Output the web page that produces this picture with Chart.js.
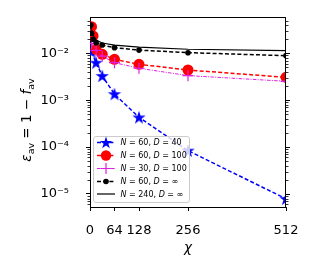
<!DOCTYPE html>
<html><head><meta charset="utf-8">
<script src="https://cdn.jsdelivr.net/npm/chart.js@4/dist/chart.umd.min.js"></script>
<style>html,body{margin:0;padding:0;background:#fff;overflow:hidden}</style>
</head><body>
<canvas id="c" width="314" height="275" style="width:314px;height:275px;display:block"></canvas>
<script>
// ---- data ----
const chiBlue = [4, 16, 32, 64, 128, 256, 512];
const epsBlue = [0.0108, 0.0063, 0.00328, 0.00135, 0.00043, 0.000084, 0.0000079];
const chiRed = [4, 8, 16, 32, 64, 128, 256, 512];
const epsRed = [0.0369, 0.0234, 0.0122, 0.0095, 0.00745, 0.00582, 0.0044, 0.00307];
const chiMag = [4, 16, 32, 64, 128, 256, 512];
const epsMag = [0.0163, 0.0115, 0.0087, 0.0063, 0.0048, 0.00334, 0.00253];
const chiBlk = [2, 4, 8, 16, 32, 64, 128, 256, 512];
const epsBlk = [0.040, 0.0267, 0.0199, 0.0168, 0.0150, 0.0132, 0.0117, 0.0103, 0.0089];
const chiSol = [2, 4, 8, 16, 32, 64, 128, 256, 512];
const epsSol = [0.045, 0.032, 0.0245, 0.0192, 0.0166, 0.0150, 0.0135, 0.0122, 0.0114];
const xTickValues = [0, 64, 128, 256, 512];
const yTickValues = [1e-5, 1e-4, 1e-3, 1e-2];
const yTickLabels = ['10\u207B\u2075', '10\u207B\u2074', '10\u207B\u00B3', '10\u207B\u00B2'];
const legendN = ['60', '60', '30', '60', '240'];
const legendD = ['40', '100', '100', '\u221E', '\u221E'];

const pts = (xs, ys) => xs.map((x, i) => ({x: x, y: ys[i]}));

function starPath(ctx, cx, cy, R) {
  const r = R * 0.382;
  ctx.beginPath();
  for (let i = 0; i < 10; i++) {
    const a = -Math.PI / 2 + i * Math.PI / 5;
    const rr = (i % 2) ? r : R;
    ctx.lineTo(cx + rr * Math.cos(a), cy + rr * Math.sin(a));
  }
  ctx.closePath();
}
const starImg = document.createElement('canvas');
starImg.width = 16; starImg.height = 16;
(function(){ const g = starImg.getContext('2d'); starPath(g, 8, 8.5, 7); g.fillStyle = '#0000ff'; g.fill(); })();

const FONT = "'DejaVu Sans', sans-serif";

const decor = {
  id: 'decor',
  afterDraw(chart) {
    const ctx = chart.ctx, a = chart.chartArea, ys = chart.scales.y;
    ctx.save();
    ctx.strokeStyle = '#000'; ctx.lineWidth = 1;
    // frame top and right
    ctx.beginPath();
    ctx.moveTo(a.left, a.top + 0.5); ctx.lineTo(a.right, a.top + 0.5);
    ctx.moveTo(a.right - 0.5, a.top); ctx.lineTo(a.right - 0.5, a.bottom);
    ctx.stroke();
    // minor ticks left/right, major ticks right
    ctx.lineWidth = 0.8;
    ctx.beginPath();
    for (let d = -6; d <= -1; d++) {
      for (let k = 2; k <= 9; k++) {
        const v = k * Math.pow(10, d);
        if (v < ys.min || v > ys.max) continue;
        const py = Math.round(ys.getPixelForValue(v)) + 0.5;
        ctx.moveTo(a.left, py); ctx.lineTo(a.left - 2.5, py);
        ctx.moveTo(a.right, py); ctx.lineTo(a.right + 2.5, py);
      }
    }
    ctx.stroke();
    ctx.lineWidth = 1;
    ctx.beginPath();
    yTickValues.forEach(v => {
      const py = Math.round(ys.getPixelForValue(v)) + 0.5;
      ctx.moveTo(a.right, py); ctx.lineTo(a.right + 4, py);
    });
    ctx.stroke();

    // y title
    ctx.fillStyle = '#000';
    ctx.textBaseline = 'alphabetic';
    const parts = [
      {t: '\u03B5', f: 'italic 13.5px ' + FONT, dy: 0},
      {t: 'av', f: '9.5px ' + FONT, dy: 2.5},
      {t: ' = 1 \u2212 ', f: '13.5px ' + FONT, dy: 0},
      {t: 'f', f: 'italic 13.5px ' + FONT, dy: 0},
      {t: 'av', f: '9.5px ' + FONT, dy: 2.5}
    ];
    let w = 0;
    parts.forEach(p => { ctx.font = p.f; p.w = ctx.measureText(p.t).width; w += p.w; });
    ctx.save();
    ctx.translate(31, 120);
    ctx.rotate(-Math.PI / 2);
    let x = -w / 2;
    parts.forEach(p => { ctx.font = p.f; ctx.fillText(p.t, x, p.dy); x += p.w; });
    ctx.restore();

    // x title
    ctx.font = 'italic 13.5px ' + FONT;
    ctx.textAlign = 'center'; ctx.textBaseline = 'middle';
    ctx.fillText('\u03C7', (a.left + a.right) / 2, 248);

    // legend
    const lx = 93.5, ly = 136.5, lw = 96, lh = 66;
    ctx.beginPath();
    ctx.roundRect(lx, ly, lw, lh, 2.5);
    ctx.fillStyle = 'rgba(255,255,255,0.8)'; ctx.fill();
    ctx.strokeStyle = '#cccccc'; ctx.lineWidth = 1; ctx.stroke();
    const rows = [142.5, 155.5, 168.5, 181.5, 194];
    const styles = [
      {c: '#0000ff', dash: [4, 2.2], lw: 1.5, m: 'star'},
      {c: '#ff0000', dash: [4, 2.2], lw: 1.5, m: 'circle'},
      {c: '#e020e0', dash: [3.5, 1.3, 1, 1.3], lw: 1, m: 'plus'},
      {c: '#000000', dash: [4, 2.2], lw: 1.5, m: 'dot'},
      {c: '#000000', dash: [], lw: 1.2, m: null}
    ];
    styles.forEach((s, i) => {
      const y = rows[i];
      ctx.save();
      ctx.strokeStyle = s.c; ctx.lineWidth = s.lw; ctx.setLineDash(s.dash);
      ctx.beginPath(); ctx.moveTo(97, y); ctx.lineTo(115, y); ctx.stroke();
      ctx.setLineDash([]);
      ctx.fillStyle = s.c;
      if (s.m === 'star') { starPath(ctx, 106, y + 0.5, 6.5); ctx.fill(); }
      if (s.m === 'circle') { ctx.beginPath(); ctx.arc(106, y, 5.2, 0, Math.PI * 2); ctx.fill(); }
      if (s.m === 'plus') { ctx.lineWidth = 1.2; ctx.beginPath(); ctx.moveTo(100.5, y); ctx.lineTo(111.5, y); ctx.moveTo(106, y - 5.5); ctx.lineTo(106, y + 5.5); ctx.stroke(); }
      if (s.m === 'dot') { ctx.beginPath(); ctx.arc(106, y, 2.8, 0, Math.PI * 2); ctx.fill(); }
      ctx.restore();
      // text
      ctx.fillStyle = '#000'; ctx.textAlign = 'left'; ctx.textBaseline = 'middle';
      let tx = 120.5;
      const seg = [
        {t: 'N', f: 'italic 8px ' + FONT},
        {t: ' = ' + legendN[i] + ', ', f: '8px ' + FONT},
        {t: 'D', f: 'italic 8px ' + FONT},
        {t: ' = ' + legendD[i], f: '8px ' + FONT}
      ];
      seg.forEach(sg => { ctx.font = sg.f; ctx.fillText(sg.t, tx, y + 0.5); tx += ctx.measureText(sg.t).width; });
    });
    ctx.restore();
  }
};

new Chart(document.getElementById('c'), {
  type: 'line',
  data: {
    datasets: [
      {label: 'N=60, D=40', data: pts(chiBlue, epsBlue), borderColor: '#0000ff', backgroundColor: '#0000ff',
       borderWidth: 1.5, borderDash: [4, 2.2], pointStyle: starImg, pointRadius: 7, order: 5},
      {label: 'N=60, D=100', data: pts(chiRed, epsRed), borderColor: '#ff0000', backgroundColor: '#ff0000',
       borderWidth: 1.5, borderDash: [4, 2.2], pointStyle: 'circle', pointRadius: 5.5, pointBorderWidth: 0, order: 4},
      {label: 'N=30, D=100', data: pts(chiMag, epsMag), borderColor: '#e020e0', backgroundColor: '#e020e0',
       borderWidth: 1, borderDash: [3.5, 1.3, 1, 1.3], pointStyle: 'cross', pointRadius: 5.5, pointBorderWidth: 1.2, order: 3},
      {label: 'N=60, D=inf', data: pts(chiBlk, epsBlk), borderColor: '#000', backgroundColor: '#000',
       borderWidth: 1.5, borderDash: [4, 2.2], pointStyle: 'circle', pointRadius: 2.8, pointBorderWidth: 0, order: 2},
      {label: 'N=240, D=inf', data: pts(chiSol, epsSol), borderColor: '#000', backgroundColor: '#000',
       borderWidth: 1.2, pointRadius: 0, order: 1}
    ]
  },
  options: {
    responsive: false, animation: false,
    layout: {padding: {left: 0, top: 17, right: 28, bottom: 0}},
    plugins: {legend: {display: false}, tooltip: {enabled: false}},
    elements: {line: {tension: 0}},
    scales: {
      x: {
        type: 'linear', min: 0, max: 512,
        afterBuildTicks: s => { s.ticks = xTickValues.map(v => ({value: v})); },
        afterFit: s => { s.height = 68; s.paddingLeft = 0; s.paddingRight = 0; },
        ticks: {autoSkip: false, maxRotation: 0, padding: 12, color: '#000', font: {family: FONT, size: 13}},
        grid: {drawOnChartArea: false, drawTicks: true, tickLength: 4, color: '#000', tickColor: '#000'},
        border: {display: true, color: '#000', width: 1}
      },
      y: {
        type: 'logarithmic', min: 5.28e-6, max: 0.0594,
        afterBuildTicks: s => { s.ticks = yTickValues.map(v => ({value: v})); },
        afterFit: s => { s.width = 90; s.paddingTop = 0; s.paddingBottom = 0; },
        ticks: {padding: 17, color: '#000', font: {family: FONT, size: 13},
          callback: (v) => { const i = yTickValues.findIndex(t => Math.abs(t - v) / t < 1e-6); return i >= 0 ? yTickLabels[i] : ''; }},
        grid: {drawOnChartArea: false, drawTicks: true, tickLength: 4, color: '#000', tickColor: '#000'},
        border: {display: true, color: '#000', width: 1}
      }
    }
  },
  plugins: [decor]
});
</script>
</body></html>
